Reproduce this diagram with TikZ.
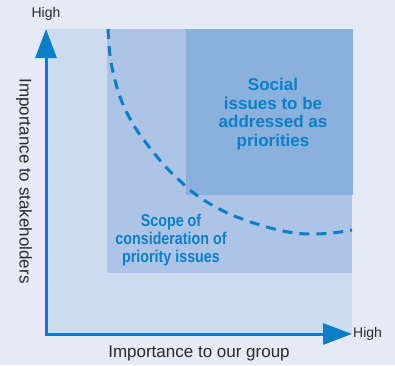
\documentclass[tikz,border=0pt]{standalone}
\usepackage{fontspec}
\setmainfont{Liberation Sans}
\newfontfamily\condfont[FakeStretch=0.84]{Liberation Sans}
\usetikzlibrary{arrows.meta}
\definecolor{bgc}{HTML}{E4EBF6}
\definecolor{lightc}{HTML}{CCDBF0}
\definecolor{midc}{HTML}{AEC4E6}
\definecolor{darkc}{HTML}{8AB0DC}
\definecolor{bluec}{HTML}{0A7FC8}
\definecolor{txtc}{HTML}{2A2A2A}
\tikzset{
  zone/.style={inner sep=0pt, outer sep=0pt, draw=none},
  axislabel/.style={text=txtc, inner sep=0pt, font=\fontsize{17}{19}\selectfont},
  highlabel/.style={text=txtc, inner sep=0pt, font=\fontsize{14}{16}\selectfont},
  zonetext/.style={text=bluec, align=center, inner sep=0pt, font=\fontsize{17}{18.5}\selectfont\bfseries},
  condtext/.style={text=bluec, align=center, inner sep=0pt, font=\fontsize{17}{18.4}\selectfont\condfont\bfseries},
  axisline/.style={draw=bluec, line width=3pt,
    {Triangle[length=29pt,width=21pt]}-{Triangle[length=29pt,width=21pt]}},
  boundary/.style={draw=bluec, line width=3pt, dash pattern=on 10pt off 7pt}
}
\begin{document}
\begin{tikzpicture}[x=1pt,y=-1pt]
\fill[bgc] (0,0) rectangle (395,365);
\useasboundingbox (0,0) rectangle (395,365);
% zones
\fill[lightc] (46,29) rectangle (352,334);
\node[zone, fill=midc, minimum width=245pt, minimum height=244pt, anchor=north west] (scope) at (107,29) {};
\node[zone, fill=darkc, minimum width=167pt, minimum height=166pt, anchor=north west] (social) at (186,29) {};
% dashed boundary
\draw[boundary] plot[smooth, tension=0.6] coordinates {(108,29) (109,45) (111,62) (115,80) (120,97) (128,115) (138,132) (150,148) (164,165) (179,180) (195,194) (212,205) (232,215) (260,225) (288,232) (310,234) (332,233) (352,230)};
% axes
\coordinate (ytip) at (46,29);
\coordinate (origin) at (46,334);
\coordinate (xtip) at (352,334);
\draw[axisline] (ytip) -- (origin) -- (xtip);
% texts
\node[zonetext] (socialtext) at (273,114) {Social\\issues to be\\addressed as\\priorities};
\node[condtext] (scopetext) at (171,240) {Scope of\\consideration of\\priority issues};
\node[highlabel] (yhigh) at (46,14) {High};
\node[highlabel, anchor=west] (xhigh) at (353,334) {High};
\node[axislabel] (xlabel) at (199,353) {Importance to our group};
\node[axislabel, rotate=-90] (ylabel) at (24,181) {Importance to stakeholders};
\end{tikzpicture}
\end{document}
